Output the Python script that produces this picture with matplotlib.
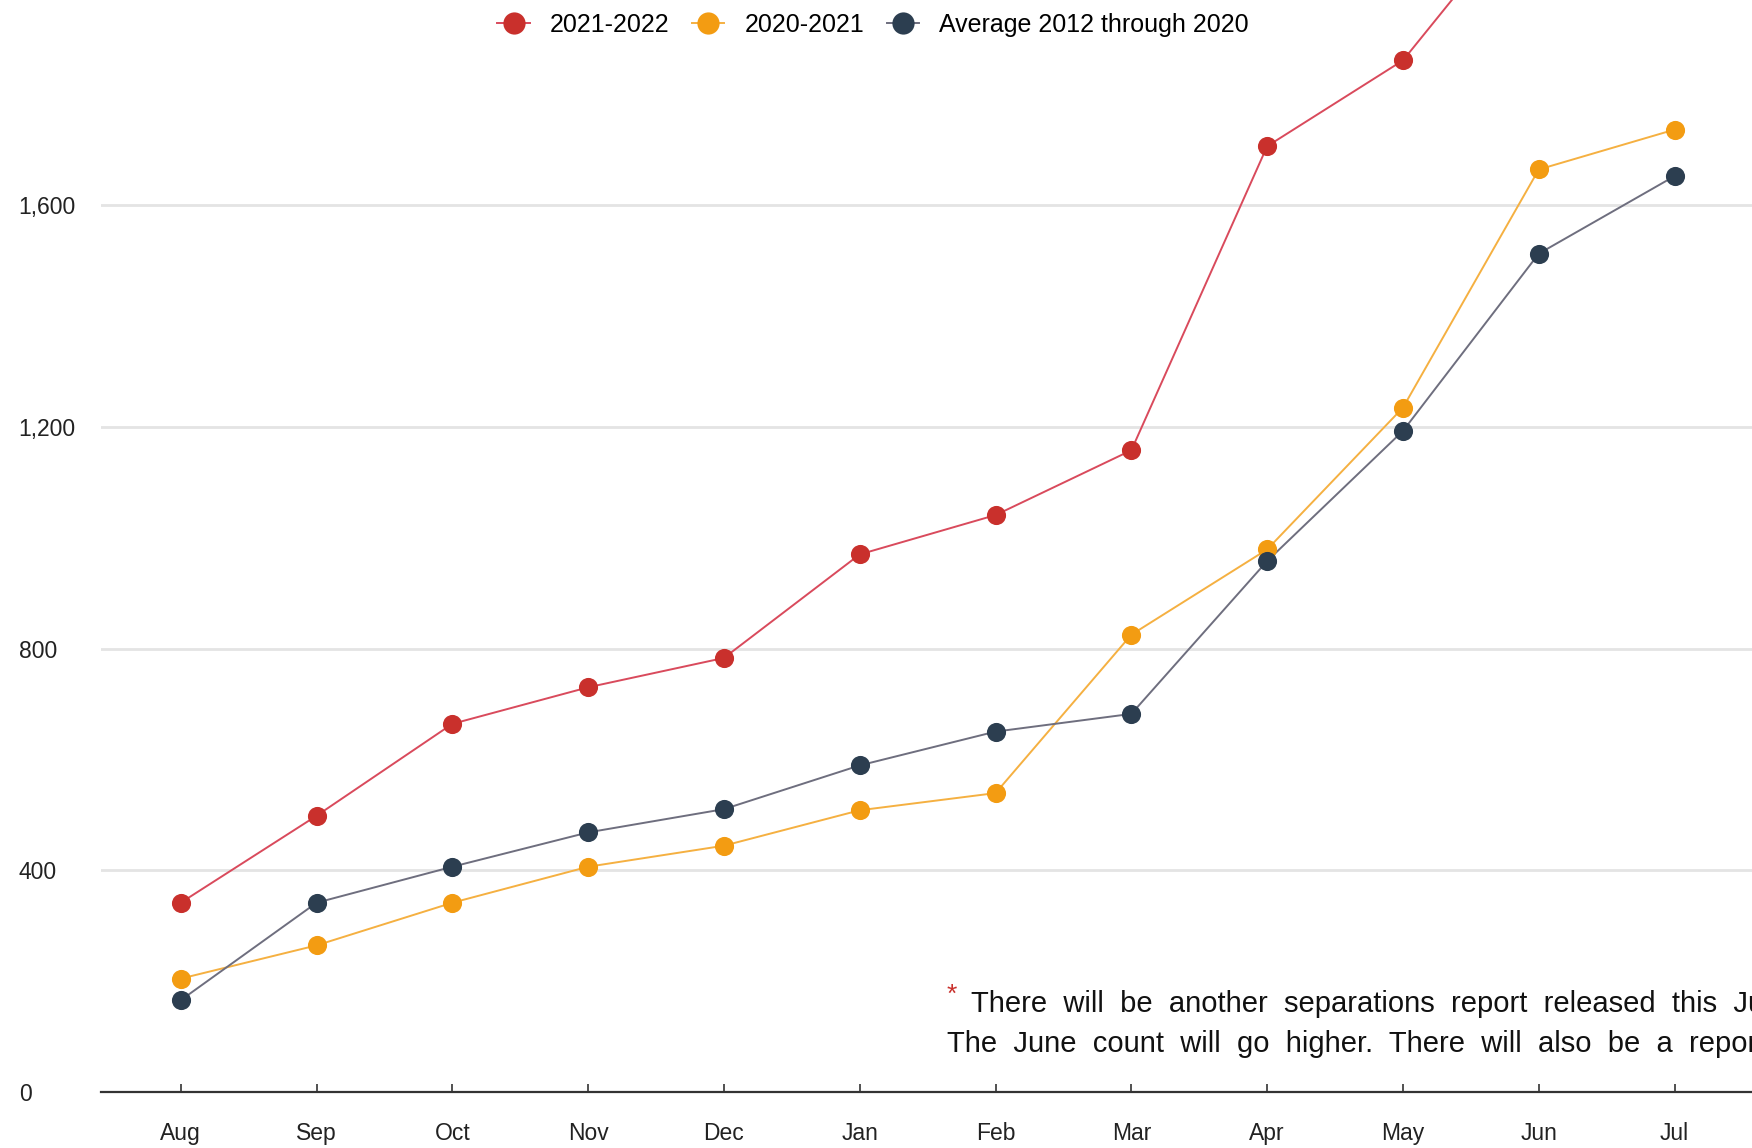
import matplotlib
matplotlib.use("Agg")
import matplotlib.pyplot as plt
from matplotlib.lines import Line2D

plt.rcParams['font.family'] = ['Liberation Sans', 'DejaVu Sans']

months = ["Aug", "Sep", "Oct", "Nov", "Dec", "Jan", "Feb", "Mar", "Apr", "May", "Jun", "Jul"]
season_2021_2022 = [341, 498, 664, 730, 783, 970, 1041, 1158, 1707, 1862, 2165]
season_2020_2021 = [204, 264, 341, 406, 444, 508, 539, 825, 979, 1235, 1665, 1737]
average_2012_2020 = [165, 341, 406, 468, 510, 589, 650, 682, 958, 1193, 1513, 1653]
y_ticks = [0, 400, 800, 1200, 1600]
y_tick_labels = ["0", "400", "800", "1,200", "1,600"]

series = [
    ("2021-2022", season_2021_2022, "#c9302c", "#d94a5c"),
    ("2020-2021", season_2020_2021, "#f39c12", "#f5b041"),
    ("Average 2012 through 2020", average_2012_2020, "#2c3e50", "#6e6e7e"),
]

fig = plt.figure(figsize=(17.52, 11.48), dpi=100)
ax = fig.add_axes([100.6 / 1752, 1 - 1091.6 / 1148, 1 - 100.6 / 1752, 1091.6 / 1148])

x = list(range(len(months)))
for label, vals, mcol, lcol in series:
    xs = x[:len(vals)]
    ax.plot(xs, vals, color=lcol, linewidth=1.4, zorder=2)
    ax.scatter(xs, vals, s=190, color=mcol, zorder=3, linewidths=0)

ax.set_xlim(-0.59, 11.57)
ax.set_ylim(0, 1971)

for yv in y_ticks[1:]:
    ax.axhline(yv, color="#e4e4e4", linewidth=2, zorder=1)

ax.set_yticks(y_ticks)
ax.set_yticklabels(y_tick_labels, fontsize=16.5, color="#222222")
ax.tick_params(axis="y", length=0, pad=59)
for t in ax.get_yticklabels():
    t.set_horizontalalignment("left")

ax.set_xticks(x)
ax.set_xticklabels(months, fontsize=16.5, color="#222222")
ax.tick_params(axis="x", direction="in", length=6, width=1.2, color="#333333", pad=22)

for side in ["top", "right", "left"]:
    ax.spines[side].set_visible(False)
ax.spines["bottom"].set_color("#333333")
ax.spines["bottom"].set_linewidth(1.6)

handles = [Line2D([0], [0], color=lcol, marker="o", markersize=16, markerfacecolor=mcol,
                  markeredgewidth=0, linewidth=1.4) for _, _, mcol, lcol in series]
labels = [s[0] for s in series]
fig.legend(handles, labels, loc="center", bbox_to_anchor=(873 / 1752, 1 - 25 / 1148),
           ncol=3, frameon=False, fontsize=18, handlelength=1.3, columnspacing=0.9,
           handletextpad=0.8)

fig.text(947 / 1752, 1 - 995 / 1148, "*", color="#c9302c", fontsize=19, va="center", ha="left")
fig.text(971 / 1752, 1 - 1004 / 1148, "There  will  be  another  separations  report  released  this  June",
         fontsize=21, va="center", ha="left", color="#111111")
fig.text(947 / 1752, 1 - 1044 / 1148, "The  June  count  will  go  higher.  There  will  also  be  a  report  in  July",
         fontsize=21, va="center", ha="left", color="#111111")

fig.savefig("out.png", dpi=100)
